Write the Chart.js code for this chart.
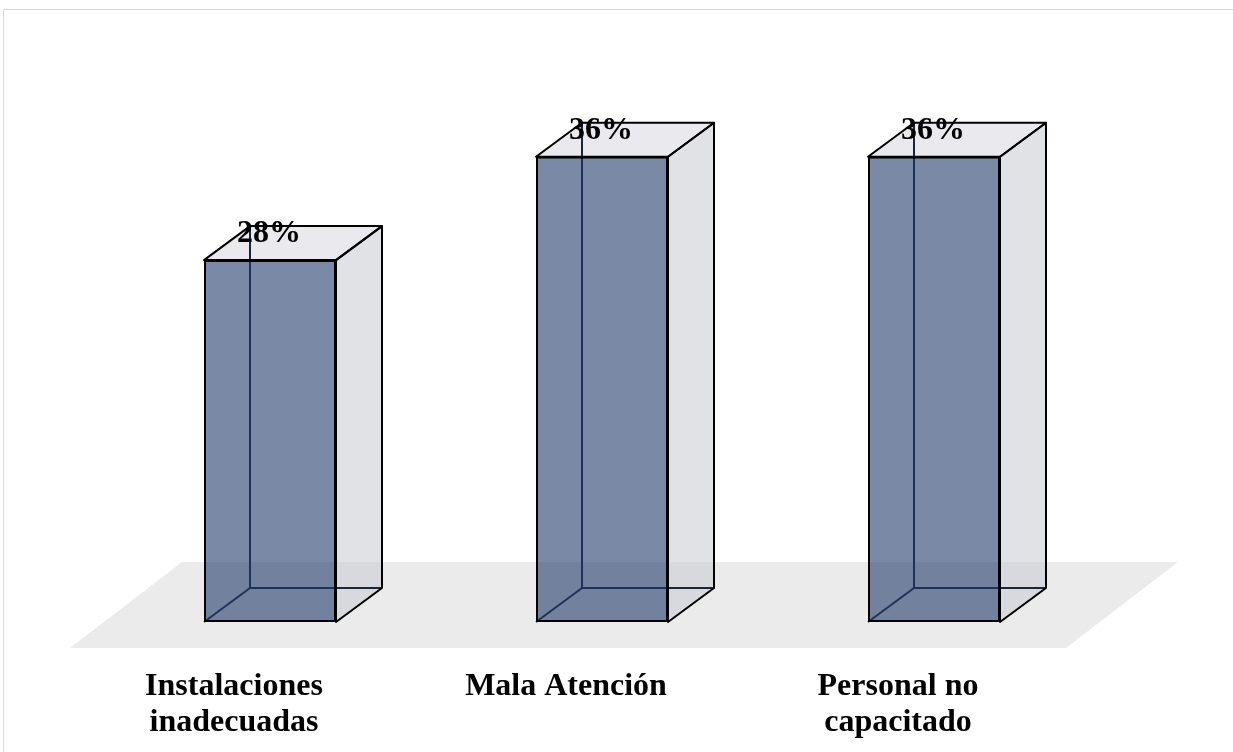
<!DOCTYPE html>
<html lang="es">
<head>
<meta charset="utf-8">
<title>Gráfico de barras</title>
<script src="https://cdn.jsdelivr.net/npm/chart.js@4.4.1/dist/chart.umd.min.js"></script>
<style>
    html, body { margin: 0; padding: 0; background: #ffffff; overflow: hidden; }
    #marco {
        position: absolute; left: 3px; top: 9px;
        width: 1300px; height: 800px;
        border: 1px solid #d9d9d9;
    }
    #grafico { position: absolute; left: 0; top: 0; }
</style>
</head>
<body>
<div id="marco"></div>
<canvas id="grafico" width="1233" height="752"></canvas>
<script>
// Datos del gráfico
const categorias = [["Instalaciones", "inadecuadas"], ["Mala Atención"], ["Personal no", "capacitado"]];
const porcentajes = [28, 36, 36];
const etiquetas = ["28%", "36%", "36%"];

// Profundidad de las cajas y del piso
const prof = { dx: 46, dy: -34 };
const piso = { dx: 112, dy: -86, frenteX: -34, frenteY: 26 };
const fuente = "bold 32px 'Liberation Serif', 'Times New Roman', serif";

function poligono(ctx, pts) {
    ctx.beginPath();
    ctx.moveTo(pts[0][0], pts[0][1]);
    for (let i = 1; i < pts.length; i++) ctx.lineTo(pts[i][0], pts[i][1]);
    ctx.closePath();
}

function linea(ctx, x1, y1, x2, y2) {
    ctx.beginPath();
    ctx.moveTo(x1, y1);
    ctx.lineTo(x2, y2);
    ctx.stroke();
}

const barras3d = {
    id: "barras3d",
    beforeDatasetsDraw(chart) {
        const ctx = chart.ctx;
        const area = chart.chartArea;
        const base = chart.scales.y.getPixelForValue(0);
        ctx.save();

        // piso gris
        const fl = area.left + piso.frenteX, fr = area.right + piso.frenteX, fy = base + piso.frenteY;
        poligono(ctx, [[fl, fy], [fr, fy], [fr + piso.dx, fy + piso.dy], [fl + piso.dx, fy + piso.dy]]);
        ctx.fillStyle = "#ebebeb";
        ctx.fill();

        chart.getDatasetMeta(0).data.forEach(bar => {
            const x0 = bar.x - bar.width / 2, x1 = bar.x + bar.width / 2;
            const top = bar.y, bot = bar.base;

            // cara lateral
            poligono(ctx, [[x1, top], [x1 + prof.dx, top + prof.dy], [x1 + prof.dx, bot + prof.dy], [x1, bot]]);
            ctx.fillStyle = "rgba(200, 202, 208, 0.55)";
            ctx.fill();
            // cara superior
            poligono(ctx, [[x0, top], [x1, top], [x1 + prof.dx, top + prof.dy], [x0 + prof.dx, top + prof.dy]]);
            ctx.fillStyle = "rgba(214, 214, 222, 0.5)";
            ctx.fill();

            // aristas ocultas (se ven a través de la cara frontal)
            ctx.strokeStyle = "#1a253d";
            ctx.lineWidth = 2;
            linea(ctx, x0 + prof.dx, top + prof.dy, x0 + prof.dx, bot + prof.dy);
            linea(ctx, x0 + prof.dx, bot + prof.dy, x1 + prof.dx, bot + prof.dy);
            linea(ctx, x0, bot, x0 + prof.dx, bot + prof.dy);
        });
        ctx.restore();
    },
    afterDatasetsDraw(chart) {
        const ctx = chart.ctx;
        ctx.save();
        ctx.strokeStyle = "#000000";
        ctx.lineWidth = 2;
        ctx.lineJoin = "round";
        chart.getDatasetMeta(0).data.forEach((bar, i) => {
            const x0 = bar.x - bar.width / 2, x1 = bar.x + bar.width / 2;
            const top = bar.y, bot = bar.base;
            poligono(ctx, [[x0, top], [x1, top], [x1 + prof.dx, top + prof.dy], [x0 + prof.dx, top + prof.dy]]);
            ctx.stroke();
            poligono(ctx, [[x1, top], [x1 + prof.dx, top + prof.dy], [x1 + prof.dx, bot + prof.dy], [x1, bot]]);
            ctx.stroke();

            // etiqueta de valor
            ctx.fillStyle = "#000000";
            ctx.font = fuente;
            ctx.textAlign = "center";
            ctx.textBaseline = "alphabetic";
            ctx.fillText(etiquetas[i], bar.x - 1, top - 18);
        });

        // nombres de las categorías sobre el borde frontal del piso
        const base = chart.scales.y.getPixelForValue(0);
        ctx.font = fuente;
        ctx.textAlign = "center";
        categorias.forEach((lineas, i) => {
            const x = chart.scales.x.getPixelForValue(i) - 36;
            lineas.forEach((t, j) => ctx.fillText(t, x, base + 73 + j * 36));
        });
        ctx.restore();
    }
};

const ctx = document.getElementById("grafico").getContext("2d");
new Chart(ctx, {
    type: "bar",
    data: {
        labels: categorias,
        datasets: [{
            data: porcentajes,
            backgroundColor: "rgba(33, 60, 107, 0.6)",
            borderColor: "#000000",
            borderWidth: 2,
            borderSkipped: false,
            barPercentage: 132 / 332,
            categoryPercentage: 1
        }]
    },
    options: {
        responsive: false,
        animation: false,
        layout: { padding: { left: 104, right: 133, top: 105, bottom: 130 } },
        plugins: { legend: { display: false }, tooltip: { enabled: false } },
        scales: {
            x: { display: false, offset: true },
            y: { display: false, min: 0, max: 40 }
        }
    },
    plugins: [barras3d]
});
</script>
</body>
</html>
